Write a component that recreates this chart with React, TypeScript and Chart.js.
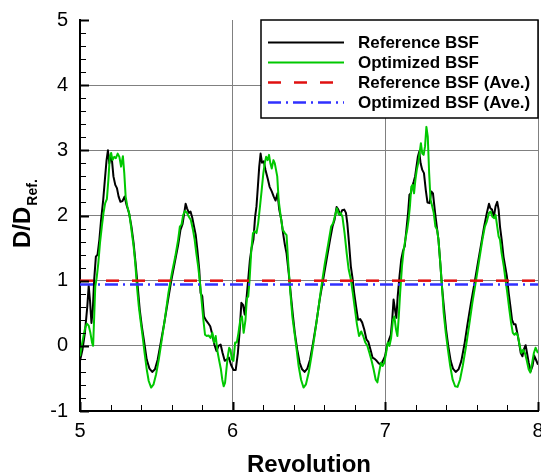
import React, { useEffect, useRef } from 'react';
import { Chart, registerables } from 'chart.js';

Chart.register(...registerables);

// ---- Data ----
const refRev = [
  5.000,5.016,5.032,5.048,5.057,5.066,5.075,5.084,5.093,5.104,
  5.115,5.127,5.138,5.152,5.163,5.174,5.183,5.192,5.201,5.210,
  5.219,5.231,5.242,5.253,5.265,5.278,5.292,5.305,5.321,5.337,
  5.351,5.364,5.378,5.391,5.405,5.421,5.437,5.455,5.473,5.491,
  5.509,5.529,5.552,5.575,5.597,5.620,5.643,5.658,5.672,5.683,
  5.692,5.701,5.713,5.724,5.735,5.747,5.758,5.769,5.781,5.790,
  5.801,5.812,5.826,5.839,5.853,5.867,5.880,5.894,5.907,5.921,
  5.934,5.948,5.962,5.975,5.989,6.005,6.020,6.034,6.045,6.057,
  6.068,6.079,6.090,6.102,6.113,6.124,6.136,6.147,6.156,6.165,
  6.174,6.183,6.192,6.204,6.215,6.229,6.242,6.256,6.269,6.281,
  6.294,6.305,6.319,6.330,6.342,6.353,6.367,6.380,6.394,6.407,
  6.423,6.439,6.455,6.471,6.489,6.507,6.527,6.548,6.570,6.593,
  6.615,6.638,6.654,6.667,6.681,6.692,6.704,6.717,6.731,6.742,
  6.751,6.762,6.774,6.785,6.796,6.808,6.821,6.835,6.848,6.862,
  6.876,6.889,6.903,6.916,6.930,6.943,6.957,6.971,6.984,6.998,
  7.011,7.025,7.036,7.045,7.054,7.063,7.072,7.081,7.093,7.104,
  7.115,7.127,7.138,7.149,7.158,7.167,7.176,7.186,7.195,7.204,
  7.213,7.222,7.231,7.242,7.253,7.265,7.276,7.290,7.301,7.312,
  7.326,7.337,7.348,7.360,7.371,7.385,7.398,7.412,7.428,7.443,
  7.461,7.480,7.498,7.518,7.538,7.561,7.584,7.606,7.629,7.647,
  7.665,7.679,7.688,7.699,7.711,7.722,7.733,7.742,7.751,7.762,
  7.774,7.785,7.796,7.808,7.819,7.830,7.842,7.853,7.864,7.876,
  7.887,7.898,7.907,7.919,7.928,7.939,7.952,7.964,7.975,7.986,
  8.000,
];
const refVal = [
  -0.23,-0.06,0.20,0.61,0.92,0.68,0.35,0.56,1.02,1.37,
  1.40,1.63,1.93,2.24,2.55,2.85,3.00,2.80,2.90,2.83,
  2.60,2.47,2.42,2.29,2.21,2.22,2.29,2.16,2.04,1.83,
  1.58,1.27,0.91,0.56,0.30,0.05,-0.21,-0.35,-0.40,-0.36,
  -0.21,0.05,0.35,0.68,0.99,1.27,1.55,1.78,1.87,2.04,
  2.18,2.11,2.04,2.06,1.97,1.83,1.70,1.47,1.17,0.81,
  0.76,0.45,0.39,0.35,0.30,0.17,0.02,-0.08,0.00,0.02,
  -0.11,-0.23,-0.21,-0.18,-0.29,-0.37,-0.37,-0.11,0.20,0.66,
  0.63,0.48,0.71,1.02,1.32,1.50,1.63,1.98,2.14,2.44,
  2.75,2.95,2.81,2.83,2.70,2.57,2.44,2.37,2.29,2.23,
  2.34,2.09,1.93,1.73,1.55,1.42,1.12,0.81,0.48,0.20,
  -0.06,-0.26,-0.36,-0.40,-0.35,-0.21,0.05,0.35,0.71,1.02,
  1.32,1.63,1.83,1.93,2.13,2.09,2.01,2.08,2.09,2.04,
  1.88,1.58,1.22,1.04,0.81,0.61,0.40,0.41,0.36,0.25,
  0.10,0.06,-0.06,-0.18,-0.20,-0.23,-0.27,-0.29,-0.23,-0.16,
  0.00,0.10,0.17,0.40,0.71,0.56,0.43,0.76,1.07,1.32,
  1.45,1.53,1.78,2.04,2.32,2.34,2.44,2.52,2.60,2.75,
  2.90,2.98,2.80,2.70,2.65,2.39,2.20,2.19,2.37,2.34,
  2.04,1.83,1.63,1.27,0.91,0.56,0.25,0.00,-0.23,-0.35,
  -0.40,-0.36,-0.23,0.02,0.33,0.66,0.96,1.27,1.58,1.83,
  2.04,2.18,2.11,2.09,1.98,2.14,2.21,2.09,1.83,1.63,
  1.37,1.22,1.07,0.81,0.61,0.40,0.33,0.33,0.20,0.05,
  -0.11,-0.16,-0.06,0.01,-0.11,-0.26,-0.39,-0.31,-0.15,-0.21,
  -0.29,
];
const optRev = [
  5.000,5.011,5.023,5.034,5.045,5.057,5.068,5.079,5.086,5.093,
  5.100,5.109,5.120,5.131,5.143,5.154,5.165,5.176,5.186,5.195,
  5.204,5.213,5.224,5.235,5.247,5.258,5.269,5.281,5.290,5.299,
  5.310,5.324,5.337,5.351,5.362,5.373,5.385,5.396,5.410,5.423,
  5.437,5.450,5.466,5.482,5.498,5.516,5.536,5.557,5.579,5.602,
  5.624,5.643,5.654,5.665,5.676,5.688,5.701,5.713,5.726,5.740,
  5.751,5.762,5.774,5.785,5.796,5.808,5.819,5.830,5.842,5.855,
  5.867,5.878,5.889,5.900,5.912,5.923,5.932,5.941,5.950,5.959,
  5.968,5.977,5.986,5.995,6.005,6.016,6.027,6.038,6.050,6.061,
  6.072,6.084,6.093,6.102,6.111,6.122,6.133,6.145,6.156,6.167,
  6.179,6.190,6.201,6.210,6.219,6.229,6.238,6.247,6.256,6.267,
  6.276,6.292,6.301,6.315,6.328,6.342,6.353,6.364,6.378,6.391,
  6.405,6.419,6.432,6.448,6.464,6.480,6.498,6.516,6.536,6.559,
  6.581,6.604,6.627,6.645,6.658,6.672,6.683,6.695,6.708,6.719,
  6.733,6.747,6.760,6.774,6.787,6.801,6.814,6.828,6.842,6.855,
  6.869,6.882,6.896,6.910,6.923,6.937,6.948,6.959,6.971,6.982,
  6.993,7.005,7.016,7.027,7.038,7.050,7.059,7.070,7.079,7.088,
  7.097,7.109,7.120,7.131,7.143,7.152,7.161,7.170,7.179,7.188,
  7.197,7.206,7.215,7.224,7.233,7.242,7.251,7.260,7.269,7.278,
  7.287,7.296,7.305,7.317,7.328,7.339,7.348,7.360,7.371,7.382,
  7.396,7.410,7.425,7.441,7.457,7.473,7.489,7.507,7.527,7.548,
  7.570,7.593,7.615,7.636,7.652,7.665,7.679,7.690,7.701,7.713,
  7.722,7.733,7.742,7.751,7.762,7.776,7.787,7.799,7.812,7.824,
  7.835,7.846,7.857,7.869,7.880,7.891,7.903,7.914,7.925,7.939,
  7.950,7.962,7.973,7.984,8.000,
];
const optVal = [
  -0.16,0.00,0.15,0.28,0.34,0.31,0.20,0.05,0.00,0.45,
  0.91,1.04,1.27,1.58,1.83,2.04,2.19,2.25,2.55,2.90,
  2.96,2.85,2.90,2.88,2.95,2.90,2.75,2.91,2.65,2.29,
  2.14,2.01,1.78,1.53,1.27,0.91,0.61,0.40,0.15,-0.11,
  -0.36,-0.54,-0.64,-0.59,-0.44,-0.21,0.10,0.43,0.81,1.12,
  1.37,1.63,1.83,1.86,2.01,2.07,2.04,1.98,1.93,1.78,
  1.63,1.42,1.22,0.99,0.71,0.40,0.17,0.15,0.16,0.12,
  0.20,0.05,0.15,-0.08,-0.23,-0.36,-0.52,-0.62,-0.57,-0.36,
  -0.16,-0.03,-0.06,-0.21,-0.23,0.05,0.05,0.20,0.40,0.45,
  0.20,0.40,0.73,0.76,1.02,1.47,1.73,1.76,1.73,1.88,
  2.14,2.39,2.65,2.80,2.90,2.85,2.93,2.80,2.72,2.85,
  2.80,2.60,2.24,1.98,1.78,1.73,1.70,1.27,0.81,0.45,
  0.20,-0.06,-0.31,-0.52,-0.64,-0.59,-0.41,-0.16,0.15,0.53,
  0.91,1.27,1.58,1.83,1.88,2.01,2.11,2.01,2.04,1.98,
  1.73,1.42,1.17,1.02,0.81,0.56,0.33,0.15,0.22,0.15,
  0.05,0.00,-0.11,-0.23,-0.36,-0.52,-0.56,-0.41,-0.26,-0.31,
  -0.26,-0.11,0.05,0.00,0.12,0.40,0.45,0.25,0.15,0.45,
  0.81,1.22,1.47,1.63,1.78,1.93,2.14,2.44,2.47,2.34,
  2.55,2.70,2.80,2.95,3.11,2.95,2.93,3.06,3.36,3.21,
  2.65,2.24,2.16,2.04,1.83,1.78,1.63,1.27,0.91,0.51,
  0.20,-0.06,-0.31,-0.52,-0.62,-0.63,-0.52,-0.31,-0.03,0.30,
  0.66,0.99,1.32,1.63,1.83,1.91,2.04,2.06,1.98,1.96,
  2.01,1.83,1.68,1.63,1.42,1.22,1.02,0.81,0.56,0.35,
  0.20,0.17,0.20,0.15,0.00,-0.11,-0.06,-0.11,-0.21,-0.36,
  -0.41,-0.26,-0.11,-0.03,-0.11,
];
const refAve = 1.0;
const optAve = 0.94;
const xLimits = [5, 8];
const yLimits = [-1, 5];
const seriesLabels = ['Reference BSF', 'Optimized BSF', 'Reference BSF (Ave.)', 'Optimized BSF (Ave.)'];
const xTitle = 'Revolution';
const yTitleMain = 'D/D';
const yTitleSub = 'Ref.';

const FONT = '"Liberation Sans", Arial, Helvetica, sans-serif';
const COLORS = ['#000000', '#00c800', '#e01010', '#3030ff'];
const DASHES: number[][] = [[], [], [13, 13], [13, 5, 2, 5]];
const WIDTHS = [2, 2, 2.5, 2.5];

const innerTicks = {
  id: 'innerTicks',
  afterDraw(chart: any) {
    const { ctx, chartArea, scales } = chart;
    const xs = scales.x;
    const ys = scales.y;
    ctx.save();
    ctx.strokeStyle = '#000';
    ctx.setLineDash([]);
    for (let i = 0; i <= 30; i++) {
      const v = yLimits[0] + i * 0.2;
      const major = i % 5 === 0;
      const py = Math.round(ys.getPixelForValue(v)) + 0.5;
      ctx.lineWidth = major ? 2 : 1;
      ctx.beginPath();
      ctx.moveTo(chartArea.left, py);
      ctx.lineTo(chartArea.left + (major ? 9 : 6), py);
      ctx.stroke();
    }
    for (let i = 0; i <= 15; i++) {
      const v = xLimits[0] + i * 0.2;
      const major = i % 5 === 0;
      const px = Math.round(xs.getPixelForValue(v)) + 0.5;
      ctx.lineWidth = major ? 2 : 1;
      ctx.beginPath();
      ctx.moveTo(px, chartArea.bottom);
      ctx.lineTo(px, chartArea.bottom - (major ? 9 : 6));
      ctx.stroke();
    }
    ctx.restore();
  },
};

const titlesAndLegend = {
  id: 'titlesAndLegend',
  afterDraw(chart: any) {
    const { ctx, chartArea } = chart;
    ctx.save();
    // x title
    ctx.fillStyle = '#000';
    ctx.font = `bold 24px ${FONT}`;
    ctx.textAlign = 'center';
    ctx.textBaseline = 'alphabetic';
    ctx.fillText(xTitle, (chartArea.left + chartArea.right) / 2, 472);
    // y title with subscript
    ctx.save();
    ctx.translate(29.5, 248);
    ctx.rotate(-Math.PI / 2);
    ctx.textAlign = 'left';
    ctx.font = `bold 24px ${FONT}`;
    ctx.fillText(yTitleMain, 0, 0);
    const w = ctx.measureText(yTitleMain).width;
    ctx.font = `bold 14px ${FONT}`;
    ctx.fillText(yTitleSub, w + 1, 7);
    ctx.restore();

    // legend box
    const bx = 261, by = 20, bw = 277, bh = 98;
    ctx.fillStyle = '#fff';
    ctx.fillRect(bx, by, bw, bh);
    ctx.strokeStyle = '#000';
    ctx.lineWidth = 1.5;
    ctx.setLineDash([]);
    ctx.strokeRect(bx, by, bw, bh);
    const rows = [42.5, 62.5, 82.5, 102.5];
    for (let i = 0; i < 4; i++) {
      ctx.strokeStyle = COLORS[i];
      ctx.lineWidth = WIDTHS[i];
      ctx.setLineDash(DASHES[i]);
      ctx.beginPath();
      ctx.moveTo(268, rows[i]);
      ctx.lineTo(344, rows[i]);
      ctx.stroke();
      ctx.setLineDash([]);
      ctx.fillStyle = '#000';
      ctx.font = `bold 17px ${FONT}`;
      ctx.textAlign = 'left';
      ctx.textBaseline = 'middle';
      ctx.fillText(seriesLabels[i], 358, rows[i] + 1);
    }
    ctx.restore();
  },
};

export default function App() {
  const canvasRef = useRef<HTMLCanvasElement>(null);
  useEffect(() => {
    document.body.style.margin = '0';
    const canvas = canvasRef.current;
    if (!canvas) return;
    const refData = refRev.map((x, i) => ({ x, y: refVal[i] }));
    const optData = optRev.map((x, i) => ({ x, y: optVal[i] }));
    const refAveData = xLimits.map((x) => ({ x, y: refAve }));
    const optAveData = xLimits.map((x) => ({ x, y: optAve }));
    const all = [refData, optData, refAveData, optAveData];
    const chart = new Chart(canvas, {
      type: 'line',
      data: {
        datasets: all.map((d, i) => ({
          label: seriesLabels[i],
          data: d,
          borderColor: COLORS[i],
          backgroundColor: COLORS[i],
          borderWidth: WIDTHS[i],
          borderDash: DASHES[i],
          pointRadius: 0,
          tension: 0,
          fill: false,
          order: 4 - i,
          borderJoinStyle: 'round' as const,
        })),
      },
      options: {
        animation: false,
        responsive: false,
        devicePixelRatio: 1,
        layout: { autoPadding: false, padding: { left: 0, right: 3, top: 20, bottom: 0 } },
        plugins: { legend: { display: false }, tooltip: { enabled: false }, title: { display: false } },
        scales: {
          x: {
            type: 'linear',
            min: xLimits[0],
            max: xLimits[1],
            afterFit: (s: any) => {
              s.height = 64;
              s.paddingLeft = 0;
              s.paddingRight = 0;
              s.paddingTop = 0;
              s.paddingBottom = 0;
            },
            ticks: {
              stepSize: 1,
              padding: 8,
              color: '#000',
              font: { family: FONT, size: 20 },
              maxRotation: 0,
              callback: (v: any) => String(v),
            },
            grid: {
              drawTicks: false,
              color: (c: any) => (c.tick && c.tick.value === xLimits[0] ? 'rgba(0,0,0,0)' : '#808080'),
              lineWidth: 1,
            },
            border: { display: true, color: '#000', width: 2 },
          },
          y: {
            type: 'linear',
            min: yLimits[0],
            max: yLimits[1],
            afterFit: (s: any) => {
              s.width = 80;
              s.paddingLeft = 0;
              s.paddingRight = 0;
              s.paddingTop = 0;
              s.paddingBottom = 0;
            },
            ticks: {
              stepSize: 1,
              padding: 12,
              color: '#000',
              font: { family: FONT, size: 20 },
              callback: (v: any) => String(v),
            },
            grid: {
              drawTicks: false,
              color: (c: any) =>
                c.tick && (c.tick.value === yLimits[1] || c.tick.value === yLimits[0]) ? 'rgba(0,0,0,0)' : '#808080',
              lineWidth: 1,
            },
            border: { display: true, color: '#000', width: 2 },
          },
        },
      },
      plugins: [innerTicks, titlesAndLegend],
    });
    return () => chart.destroy();
  }, []);
  return (
    <div style={{ width: 541, height: 475 }}>
      <canvas ref={canvasRef} width={541} height={475} style={{ display: 'block' }} />
    </div>
  );
}
